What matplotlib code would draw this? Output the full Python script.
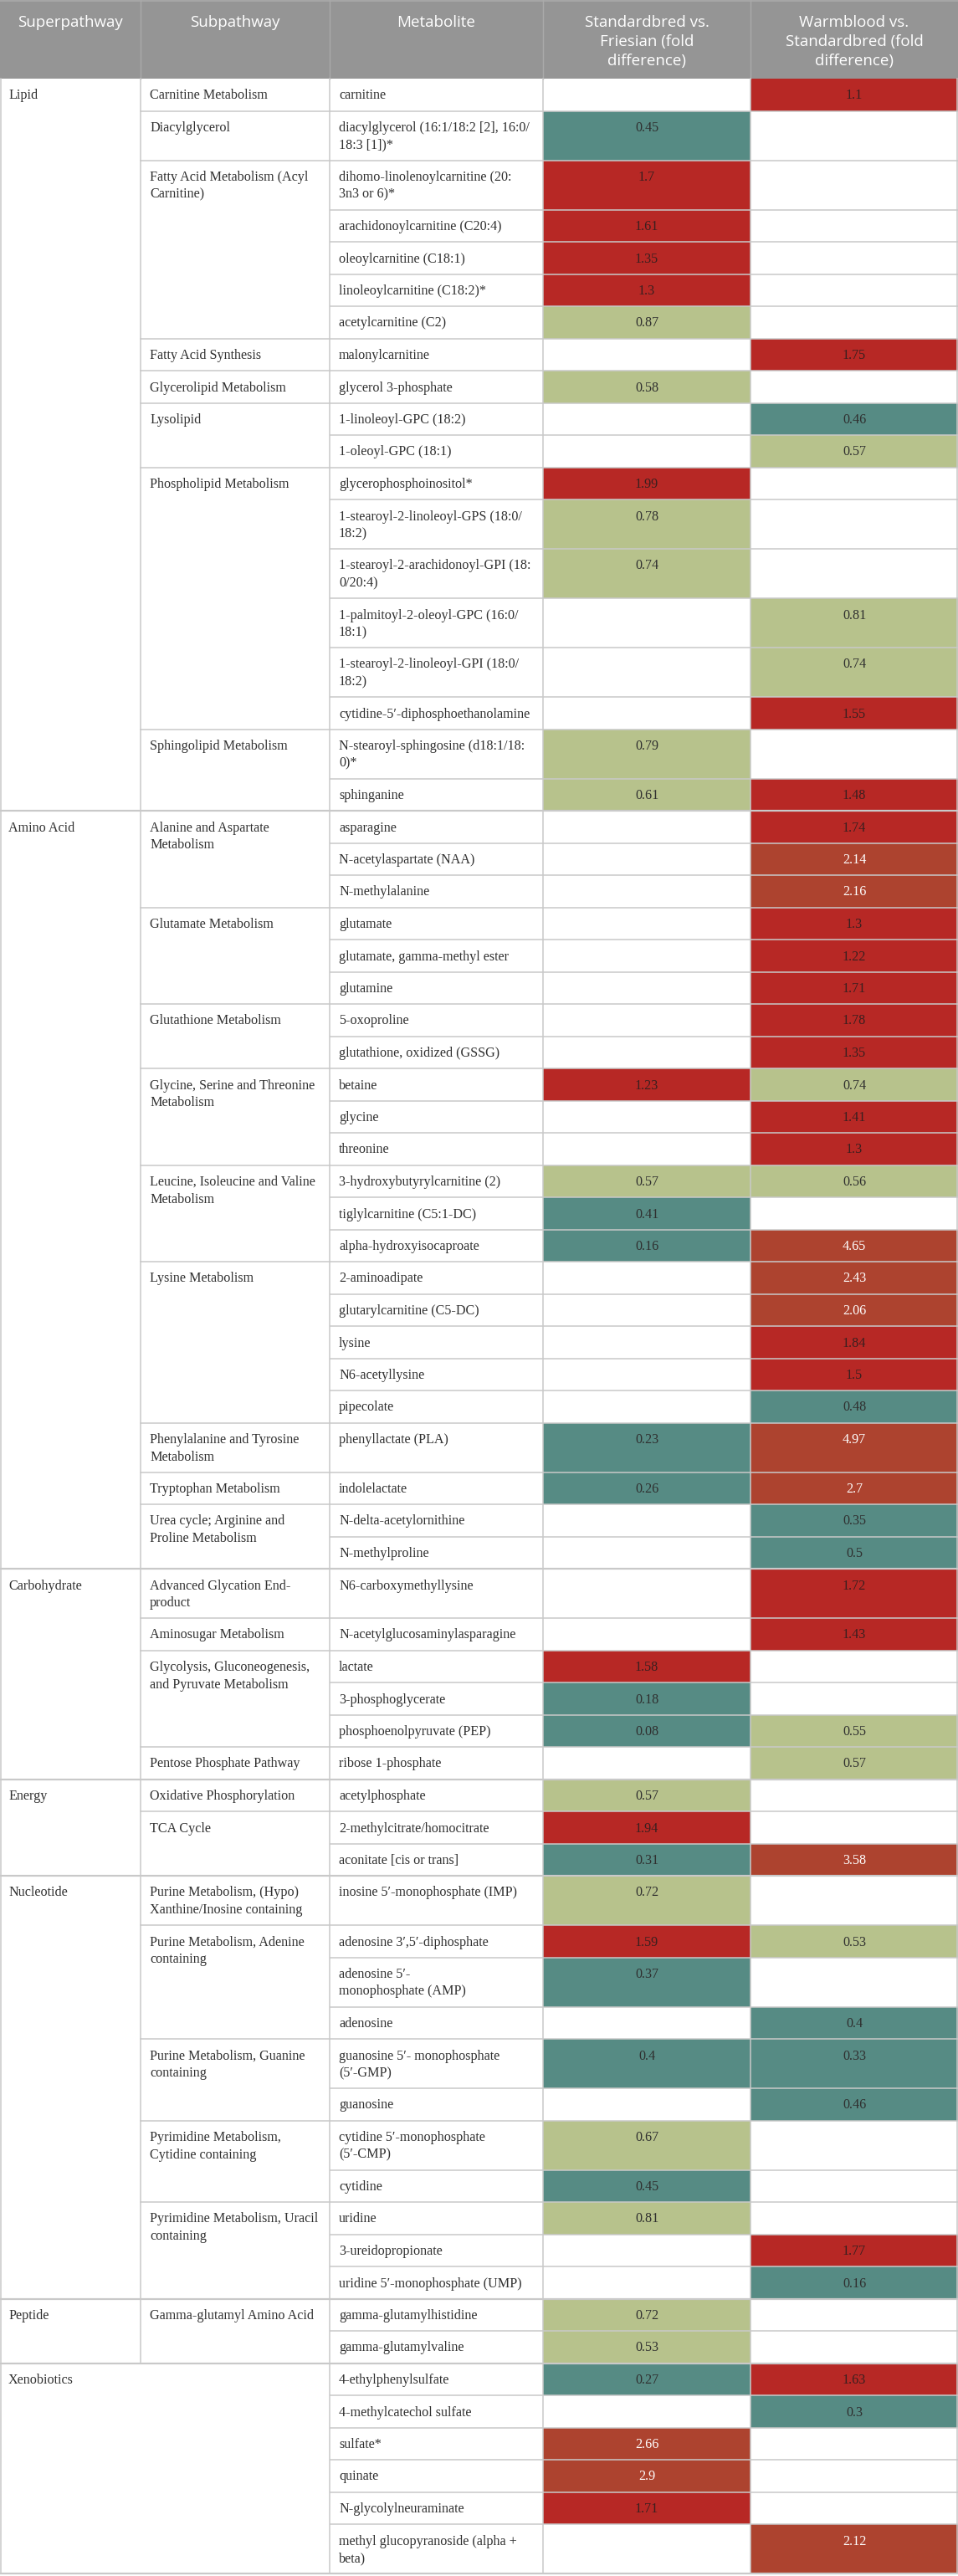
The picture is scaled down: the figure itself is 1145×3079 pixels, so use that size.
"""Metabolite fold-difference table (Standardbred vs Friesian, Warmblood vs Standardbred)."""
from itertools import groupby

import matplotlib
matplotlib.use("Agg")
import matplotlib.pyplot as plt
from matplotlib.patches import Rectangle

# ---------------------------------------------------------------- data
HEADERS = ["Superpathway", "Subpathway", "Metabolite",
           "Standardbred vs.\nFriesian (fold\ndifference)",
           "Warmblood vs.\nStandardbred (fold\ndifference)"]

superpathway = (["Lipid"] * 19 + ["Amino Acid"] * 23 + ["Carbohydrate"] * 6
                + ["Energy"] * 3 + ["Nucleotide"] * 11 + ["Peptide"] * 2
                + ["Xenobiotics"] * 6)

subpathway = (
    ["Carnitine Metabolism", "Diacylglycerol"]
    + ["Fatty Acid Metabolism (Acyl\nCarnitine)"] * 5
    + ["Fatty Acid Synthesis", "Glycerolipid Metabolism"]
    + ["Lysolipid"] * 2
    + ["Phospholipid Metabolism"] * 6
    + ["Sphingolipid Metabolism"] * 2
    + ["Alanine and Aspartate\nMetabolism"] * 3
    + ["Glutamate Metabolism"] * 3
    + ["Glutathione Metabolism"] * 2
    + ["Glycine, Serine and Threonine\nMetabolism"] * 3
    + ["Leucine, Isoleucine and Valine\nMetabolism"] * 3
    + ["Lysine Metabolism"] * 5
    + ["Phenylalanine and Tyrosine\nMetabolism", "Tryptophan Metabolism"]
    + ["Urea cycle; Arginine and\nProline Metabolism"] * 2
    + ["Advanced Glycation End-\nproduct", "Aminosugar Metabolism"]
    + ["Glycolysis, Gluconeogenesis,\nand Pyruvate Metabolism"] * 3
    + ["Pentose Phosphate Pathway", "Oxidative Phosphorylation"]
    + ["TCA Cycle"] * 2
    + ["Purine Metabolism, (Hypo)\nXanthine/Inosine containing"]
    + ["Purine Metabolism, Adenine\ncontaining"] * 3
    + ["Purine Metabolism, Guanine\ncontaining"] * 2
    + ["Pyrimidine Metabolism,\nCytidine containing"] * 2
    + ["Pyrimidine Metabolism, Uracil\ncontaining"] * 3
    + ["Gamma-glutamyl Amino Acid"] * 2
    + [""] * 6
)

metabolite = [
    "carnitine",
    "diacylglycerol (16:1/18:2 [2], 16:0/\n18:3 [1])*",
    "dihomo-linolenoylcarnitine (20:\n3n3 or 6)*",
    "arachidonoylcarnitine (C20:4)",
    "oleoylcarnitine (C18:1)",
    "linoleoylcarnitine (C18:2)*",
    "acetylcarnitine (C2)",
    "malonylcarnitine",
    "glycerol 3-phosphate",
    "1-linoleoyl-GPC (18:2)",
    "1-oleoyl-GPC (18:1)",
    "glycerophosphoinositol*",
    "1-stearoyl-2-linoleoyl-GPS (18:0/\n18:2)",
    "1-stearoyl-2-arachidonoyl-GPI (18:\n0/20:4)",
    "1-palmitoyl-2-oleoyl-GPC (16:0/\n18:1)",
    "1-stearoyl-2-linoleoyl-GPI (18:0/\n18:2)",
    "cytidine-5\u2032-diphosphoethanolamine",
    "N-stearoyl-sphingosine (d18:1/18:\n0)*",
    "sphinganine",
    "asparagine",
    "N-acetylaspartate (NAA)",
    "N-methylalanine",
    "glutamate",
    "glutamate, gamma-methyl ester",
    "glutamine",
    "5-oxoproline",
    "glutathione, oxidized (GSSG)",
    "betaine",
    "glycine",
    "threonine",
    "3-hydroxybutyrylcarnitine (2)",
    "tiglylcarnitine (C5:1-DC)",
    "alpha-hydroxyisocaproate",
    "2-aminoadipate",
    "glutarylcarnitine (C5-DC)",
    "lysine",
    "N6-acetyllysine",
    "pipecolate",
    "phenyllactate (PLA)",
    "indolelactate",
    "N-delta-acetylornithine",
    "N-methylproline",
    "N6-carboxymethyllysine",
    "N-acetylglucosaminylasparagine",
    "lactate",
    "3-phosphoglycerate",
    "phosphoenolpyruvate (PEP)",
    "ribose 1-phosphate",
    "acetylphosphate",
    "2-methylcitrate/homocitrate",
    "aconitate [cis or trans]",
    "inosine 5\u2032-monophosphate (IMP)",
    "adenosine 3\u2032,5\u2032-diphosphate",
    "adenosine 5\u2032-\nmonophosphate (AMP)",
    "adenosine",
    "guanosine 5\u2032- monophosphate\n(5\u2032-GMP)",
    "guanosine",
    "cytidine 5\u2032-monophosphate\n(5\u2032-CMP)",
    "cytidine",
    "uridine",
    "3-ureidopropionate",
    "uridine 5\u2032-monophosphate (UMP)",
    "gamma-glutamylhistidine",
    "gamma-glutamylvaline",
    "4-ethylphenylsulfate",
    "4-methylcatechol sulfate",
    "sulfate*",
    "quinate",
    "N-glycolylneuraminate",
    "methyl glucopyranoside (alpha +\nbeta)",
]

N = None
sb_vs_friesian = [
    N, 0.45, 1.7, 1.61, 1.35, 1.3, 0.87, N, 0.58, N, N, 1.99, 0.78, 0.74, N, N, N, 0.79, 0.61,
    N, N, N, N, N, N, N, N, 1.23, N, N, 0.57, 0.41, 0.16, N, N, N, N, N, 0.23, 0.26, N, N,
    N, N, 1.58, 0.18, 0.08, N,
    0.57, 1.94, 0.31,
    0.72, 1.59, 0.37, N, 0.4, N, 0.67, 0.45, 0.81, N, N,
    0.72, 0.53,
    0.27, N, 2.66, 2.9, 1.71, N,
]
wb_vs_sb = [
    1.1, N, N, N, N, N, N, 1.75, N, 0.46, 0.57, N, N, N, 0.81, 0.74, 1.55, N, 1.48,
    1.74, 2.14, 2.16, 1.3, 1.22, 1.71, 1.78, 1.35, 0.74, 1.41, 1.3, 0.56, N, 4.65,
    2.43, 2.06, 1.84, 1.5, 0.48, 4.97, 2.7, 0.35, 0.5,
    1.72, 1.43, N, N, 0.55, 0.57,
    N, N, 3.58,
    N, 0.53, N, 0.4, 0.33, 0.46, N, N, N, 1.77, 0.16,
    N, N,
    1.63, 0.3, N, N, N, 2.12,
]

# ---------------------------------------------------------------- style
W, H = 1145, 3079
COL_X = [0, 168, 394, 649, 897, 1145]
HEADER_H = 94
ROW_BASE, LINE_STEP = 38.5, 20.5
PAD = 11

HEADER_BG = "#959595"
GRID = "#c9c9c9"
SERIF = ["Liberation Serif", "DejaVu Serif"]
SANS = ["Open Sans", "DejaVu Sans"]
BODY_FS = 11.6
TEXT_DARK = "#2f2f2f"


def cell_style(v):
    """fill colour and text colour for a fold-difference value"""
    if v <= 0.5:
        return "#568b84", TEXT_DARK
    if v < 1:
        return "#b7c28c", TEXT_DARK
    if v < 2:
        return "#b72825", "#3a1f1f"
    return "#ad432f", "white"


def nlines(s):
    return s.count("\n") + 1


# ---------------------------------------------------------------- layout
n_rows = len(metabolite)
groups = [(k, len(list(g))) for k, g in groupby(zip(superpathway, subpathway))]

row_lines = [nlines(m) for m in metabolite]
i = 0
for (sup, sub), n in groups:
    if n == 1:
        row_lines[i] = max(row_lines[i], nlines(sub))
    i += n

row_top = [HEADER_H]
for ln in row_lines:
    row_top.append(row_top[-1] + ROW_BASE + LINE_STEP * (ln - 1))

fig = plt.figure(figsize=(W / 100, H / 100), dpi=100)
ax = fig.add_axes([0, 0, 1, 1])
ax.set_xlim(0, W)
ax.set_ylim(H, 0)
ax.axis("off")

# header
ax.add_patch(Rectangle((0, 0), W, HEADER_H, color=HEADER_BG, lw=0))
for c, label in enumerate(HEADERS):
    xc = (COL_X[c] + COL_X[c + 1]) / 2
    for j, line in enumerate(label.split("\n")):
        ax.text(xc, 32 + 23 * j, line, ha="center", va="baseline",
                fontsize=13.5, color="white", family=SANS)
for x in COL_X[1:-1]:
    ax.plot([x, x], [0, HEADER_H], color="#aaaaaa", lw=1.0)
ax.plot([0, W], [0.8, 0.8], color="#aaaaaa", lw=1.2)


def put_text(x, top, s, ha="left", color=TEXT_DARK):
    for j, line in enumerate(s.split("\n")):
        ax.text(x, top + 24.5 + LINE_STEP * j, line, ha=ha, va="baseline",
                fontsize=BODY_FS, color=color, family=SERIF)


# value cells
for r in range(n_rows):
    top, bot = row_top[r], row_top[r + 1]
    ax_vals = (sb_vs_friesian[r], wb_vs_sb[r])
    for k, v in enumerate(ax_vals):
        if v is None:
            continue
        x0, x1 = COL_X[3 + k], COL_X[4 + k]
        fill, tc = cell_style(v)
        ax.add_patch(Rectangle((x0, top), x1 - x0, bot - top, color=fill, lw=0))
        put_text((x0 + x1) / 2, top, f"{v:g}", ha="center", color=tc)
    put_text(COL_X[2] + PAD, top, metabolite[r])

# superpathway / subpathway labels and horizontal rules
i = 0
prev_sup = None
for (sup, sub), n in groups:
    top, bot = row_top[i], row_top[i + n]
    if sup != prev_sup:
        put_text(10, top, sup)
    if sub:
        put_text(COL_X[1] + PAD, top, sub)
    else:
        # merged super/sub cell: hide the column rule
        pass
    for r in range(i, i + n):
        yb = row_top[r + 1]
        last_in_sub = (r == i + n - 1)
        if not last_in_sub:
            x_start = COL_X[2]
        elif r + 1 < n_rows and superpathway[r + 1] == sup:
            x_start = COL_X[1]
        else:
            x_start = 0
        lw = 1.6 if x_start == 0 else 1.1
        ax.plot([x_start, W], [yb, yb], color=GRID, lw=lw, solid_capstyle="butt")
    prev_sup = sup
    i += n

# vertical rules
body_top, body_bot = HEADER_H, row_top[-1]
for x in [0.8, COL_X[2], COL_X[3], COL_X[4], W - 0.8]:
    ax.plot([x, x], [body_top, body_bot], color=GRID, lw=1.1)
i = 0
for (sup, sub), n in groups:
    if sub:
        ax.plot([COL_X[1]] * 2, [row_top[i], row_top[i + n]], color=GRID, lw=1.1)
    i += n

fig.savefig("out.png", dpi=100)
plt.close(fig)
